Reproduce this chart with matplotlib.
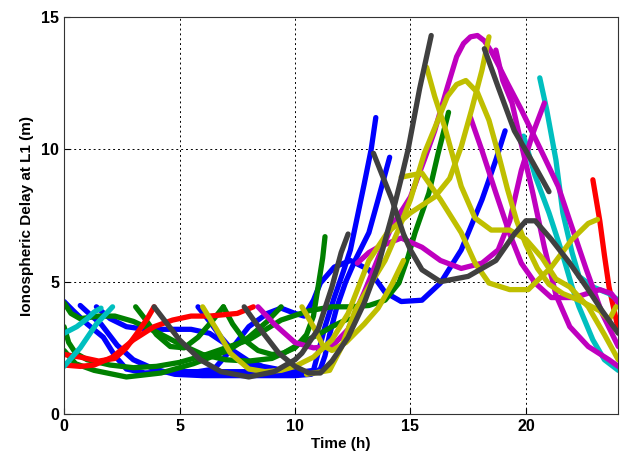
import matplotlib
matplotlib.use("Agg")
import matplotlib.pyplot as plt

# satellite arcs: (time h, delay m) points, grouped by line colour
blue_arcs = [
    [(0, 4.25), (0.4, 3.9), (1.0, 3.4), (1.7, 2.9), (2.2, 2.2), (2.7, 1.7), (3.5, 1.55), (4.5, 1.6),
     (5.5, 1.6), (6.5, 1.6), (7.5, 1.6), (8.5, 1.6), (9.5, 1.6), (10.4, 1.6), (10.8, 1.65), (11.0, 2.3),
     (11.3, 3.3), (11.7, 4.4), (12.1, 5.4), (12.4, 6.2), (12.7, 7.45), (13.0, 8.7), (13.3, 10.0), (13.5, 11.2)],
    [(0.7, 4.1), (1.2, 3.7), (1.6, 3.4), (2.3, 2.6), (3.0, 2.05), (3.9, 1.7), (4.8, 1.5), (6, 1.45),
     (7, 1.45), (8, 1.45), (9, 1.45), (10, 1.45), (10.7, 1.5), (11.1, 1.7), (11.3, 2.2), (11.5, 3.0),
     (11.8, 4.0), (12.2, 5.0), (12.6, 5.8), (13.2, 6.85), (13.6, 8.1), (14.1, 9.7)],
    [(1.4, 4.05), (2.0, 3.6), (2.7, 3.3), (3.5, 3.2), (4.5, 3.2), (5.5, 3.2), (6.3, 3.05), (6.9, 2.7),
     (7.5, 2.2), (8.2, 1.75), (9.0, 1.6), (9.5, 1.6)],
    [(5.0, 1.6), (5.8, 1.6), (6.5, 1.7), (7.2, 2.4), (8.0, 3.3), (8.8, 3.8), (9.4, 4.0), (10, 3.8),
     (10.4, 3.7), (10.8, 4.3), (11.1, 4.95), (11.7, 5.55), (12.4, 5.8), (13.2, 5.45), (13.9, 4.6),
     (14.6, 4.25), (15.5, 4.3), (16.3, 4.95), (17.2, 6.2), (18.1, 8.1), (18.7, 9.6), (19.1, 10.7)],
    [(5.8, 4.05), (6.3, 3.5), (6.8, 2.9), (7.3, 2.4), (8.0, 2.0), (8.6, 1.8), (9.2, 1.7)],
]
green_arcs = [
    [(0, 4.2), (0.3, 3.8), (0.7, 3.6), (1.5, 3.7), (2.2, 3.7), (3, 3.5), (4, 3.1), (5, 2.65), (6, 2.25),
     (7, 2.05), (8, 2.0), (9, 2.1), (9.5, 2.3), (10.3, 2.7), (11, 3.0), (11.6, 3.3), (12.3, 3.6)],
    [(0, 3.3), (0.2, 2.7), (0.5, 2.3), (1, 2.05), (2, 1.85), (3, 1.75), (4, 1.8), (5, 1.95), (6, 2.2),
     (7, 2.5), (8, 2.8), (9.4, 3.55), (10.6, 3.9), (11.6, 4.05), (12.4, 4.05), (13.2, 4.1), (13.9, 4.3),
     (14.5, 4.95), (14.9, 5.95), (15.2, 6.85), (15.8, 8.35), (16.2, 9.85), (16.65, 11.4)],
    [(0, 2.4), (0.5, 1.9), (1.3, 1.65), (2.7, 1.4), (4.2, 1.55), (5.6, 1.9), (7.1, 2.4), (8, 2.9),
     (8.8, 3.5), (9.4, 4.05)],
    [(3.1, 4.05), (3.5, 3.6), (4, 3.0), (4.6, 2.55), (5.2, 2.5), (5.8, 2.9), (6.4, 3.5), (6.9, 4.05)],
    [(6.9, 4.05), (7.3, 3.4), (7.8, 2.8), (8.4, 2.4), (9.0, 2.25), (9.5, 2.3), (10, 2.5), (10.5, 3.0),
     (10.8, 3.7), (11.0, 4.8), (11.2, 5.9), (11.3, 6.7)],
]
red_arcs = [
    [(0, 1.85), (0.7, 1.8), (1.3, 1.85), (2.1, 2.15), (3.0, 2.8), (3.9, 3.3), (4.7, 3.55), (5.5, 3.7),
     (6.3, 3.7), (7.5, 3.8), (8.2, 4.05)],
    [(0, 2.25), (0.7, 2.15), (1.5, 2.0), (2.2, 2.1), (2.7, 2.5), (3.2, 3.1), (3.6, 3.6), (3.9, 4.05)],
    [(22.9, 8.85), (23.2, 7.3), (23.4, 6.0), (23.6, 4.8), (23.8, 4.0), (24, 3.2)],
]
cyan_arcs = [
    [(0, 1.8), (0.7, 2.5), (1.4, 3.4), (2.1, 4.05)],
    [(0, 3.05), (0.55, 3.3), (1.0, 3.6), (1.3, 3.85), (1.6, 4.0)],
    [(20.6, 12.7), (20.9, 11.5), (21.3, 9.6), (21.6, 7.6), (22.0, 6.1), (22.3, 5.2), (22.9, 4.8),
     (23.6, 4.55), (24, 4.3)],
    [(19.9, 10.5), (20.4, 9.0), (21, 7.6), (21.6, 6.0), (22.0, 4.8), (22.3, 4.05), (22.9, 2.8),
     (23.4, 2.05), (24, 1.65)],
]
magenta_arcs = [
    [(8.4, 4.05), (9.1, 3.4), (10, 2.7), (10.8, 2.5), (11.6, 2.55), (12.3, 3.2), (13, 4.6), (13.7, 6.1),
     (14.2, 7.1), (15, 8.2), (15.6, 9.6), (16.05, 10.7), (16.6, 12.35), (17.0, 13.5), (17.3, 14.0),
     (17.6, 14.25), (17.9, 14.3), (18.2, 14.1), (18.5, 13.7), (18.8, 13.2), (19.2, 12.5), (19.8, 11.5),
     (20.8, 9.7), (21.4, 8.6), (21.9, 7.3), (22.6, 5.5), (23.3, 3.8), (24, 2.55)],
    [(18.7, 13.75), (19.0, 12.6), (19.4, 11.75), (19.8, 10.2), (20.3, 8.35), (20.8, 6.3), (21.3, 4.5),
     (21.9, 3.3), (22.7, 2.55), (23.6, 2.05), (24, 1.8)],
    [(12.7, 5.7), (13.2, 6.1), (13.6, 6.3), (14.6, 6.65), (15.5, 6.3), (16.3, 5.8), (17.2, 5.5),
     (18.1, 5.7), (18.8, 6.2), (19.3, 7.3), (19.8, 9.2), (20.3, 10.6), (20.8, 11.75)],
    [(17.6, 11.2), (18.1, 9.95), (18.7, 8.35), (19.3, 6.8), (19.8, 5.7), (20.4, 4.95), (21.1, 4.4),
     (22.1, 4.4), (23.2, 4.7), (23.7, 4.55), (24, 4.2)],
]
yellow_arcs = [
    [(6.0, 4.05), (6.6, 3.2), (7.2, 2.3), (8.0, 1.7), (8.7, 1.6), (9.4, 1.65), (10, 1.8), (10.8, 2.15),
     (11.6, 2.8), (12.3, 3.8), (13.2, 5.8), (14, 6.85), (15, 7.6), (16.05, 8.2), (16.7, 8.9),
     (17.2, 10.1), (17.65, 11.5), (18.1, 13.0), (18.4, 14.25)],
    [(10.5, 1.5), (11.5, 1.65), (12.0, 2.5), (12.6, 3.9), (13.2, 4.8), (13.9, 5.8), (14.5, 7.0),
     (15.0, 8.1), (15.6, 9.85), (16.05, 10.8), (16.6, 12.0), (17.0, 12.45), (17.4, 12.6), (17.9, 12.15),
     (18.4, 11.1), (18.8, 9.85), (19.2, 8.5), (19.6, 7.3), (20.0, 6.4), (20.5, 5.5), (21.0, 4.9),
     (21.6, 4.55), (22.3, 4.3), (23.2, 3.9), (23.6, 3.55), (23.9, 4.05)],
    [(15.7, 13.1), (16.05, 12.0), (16.5, 10.8), (16.8, 9.85), (17.2, 8.6), (17.8, 7.4), (18.5, 6.95),
     (19.3, 6.95), (20, 6.6), (20.7, 5.9), (21.3, 5.1), (21.9, 4.8), (22.7, 4.05), (23.4, 3.0), (24, 2.05)],
    [(14.6, 8.95), (15.5, 9.1), (16.3, 8.1), (17.2, 6.85), (17.8, 5.7), (18.4, 4.95), (19.3, 4.7),
     (20.1, 4.7), (21.1, 5.55), (22.0, 6.6), (22.7, 7.2), (23.1, 7.35)],
    [(10.3, 4.05), (10.8, 3.3), (11.2, 2.6), (11.6, 2.4), (12.2, 2.7), (13, 3.4), (13.6, 4.0), (14.2, 4.9),
     (14.7, 5.8)],
]
gray_arcs = [
    [(7.8, 4.05), (8.5, 3.2), (9.3, 2.3), (10, 1.8), (10.6, 1.55), (11.1, 1.55), (11.6, 2.0), (12.3, 2.9),
     (13, 4.2), (13.6, 5.6), (14.2, 7.5), (14.6, 8.9), (14.9, 10.0), (15.4, 12.3), (15.9, 14.3)],
    [(13.4, 9.85), (14.2, 8.1), (14.7, 6.8), (15, 6.2), (15.5, 5.45), (16.3, 5.0), (17.5, 5.2), (18.7, 5.8),
     (19.5, 6.8), (20, 7.3), (20.4, 7.3), (21.1, 6.6), (21.9, 5.7), (22.7, 4.7), (23.3, 3.9), (24, 3.05)],
    [(18.2, 13.8), (18.8, 12.35), (19.5, 10.7), (20.3, 9.5), (21, 8.4)],
    [(3.9, 4.05), (5, 2.8), (5.9, 2.05), (6.8, 1.6), (8, 1.4), (9.1, 1.6), (10, 2.05), (10.3, 2.3),
     (11, 3.2), (11.6, 4.8), (12, 6.1), (12.3, 6.8)],
]

line_colors = {
    "blue": "#0000ff", "green": "#008000", "red": "#ff0000", "cyan": "#00bfbf",
    "magenta": "#bf00bf", "yellow": "#bfbf00", "gray": "#404040",
}
groups = [("blue", blue_arcs), ("green", green_arcs), ("red", red_arcs), ("cyan", cyan_arcs),
          ("magenta", magenta_arcs), ("yellow", yellow_arcs), ("gray", gray_arcs)]

plt.rcParams['font.family'] = ['Liberation Sans', 'DejaVu Sans']
fig = plt.figure(figsize=(6.22, 4.59), dpi=100)
ax = fig.add_axes([0.103, 0.098, 0.891, 0.865])

for name, arcs in groups:
    for arc in arcs:
        t = [p[0] for p in arc]
        v = [p[1] for p in arc]
        ax.plot(t, v, color=line_colors[name], lw=3.8, solid_capstyle='round', solid_joinstyle='round')

ax.set_xlim(0, 24)
ax.set_ylim(0, 15)
ax.set_xticks([0, 5, 10, 15, 20])
ax.set_yticks([0, 5, 10, 15])
ax.grid(True, color='black', linestyle=(0, (2, 3)), linewidth=0.7)
ax.tick_params(direction='in', length=4, labelsize=11.5, width=0.8)
for lab in ax.get_xticklabels() + ax.get_yticklabels():
    lab.set_fontweight('bold')
for sp in ax.spines.values():
    sp.set_color('#333333')
ax.set_xlabel("Time (h)", fontsize=11, fontweight='bold', labelpad=2)
ax.set_ylabel("Ionospheric Delay at L1 (m)", fontsize=11, fontweight='bold', labelpad=5)

fig.savefig("out.png", dpi=100)
